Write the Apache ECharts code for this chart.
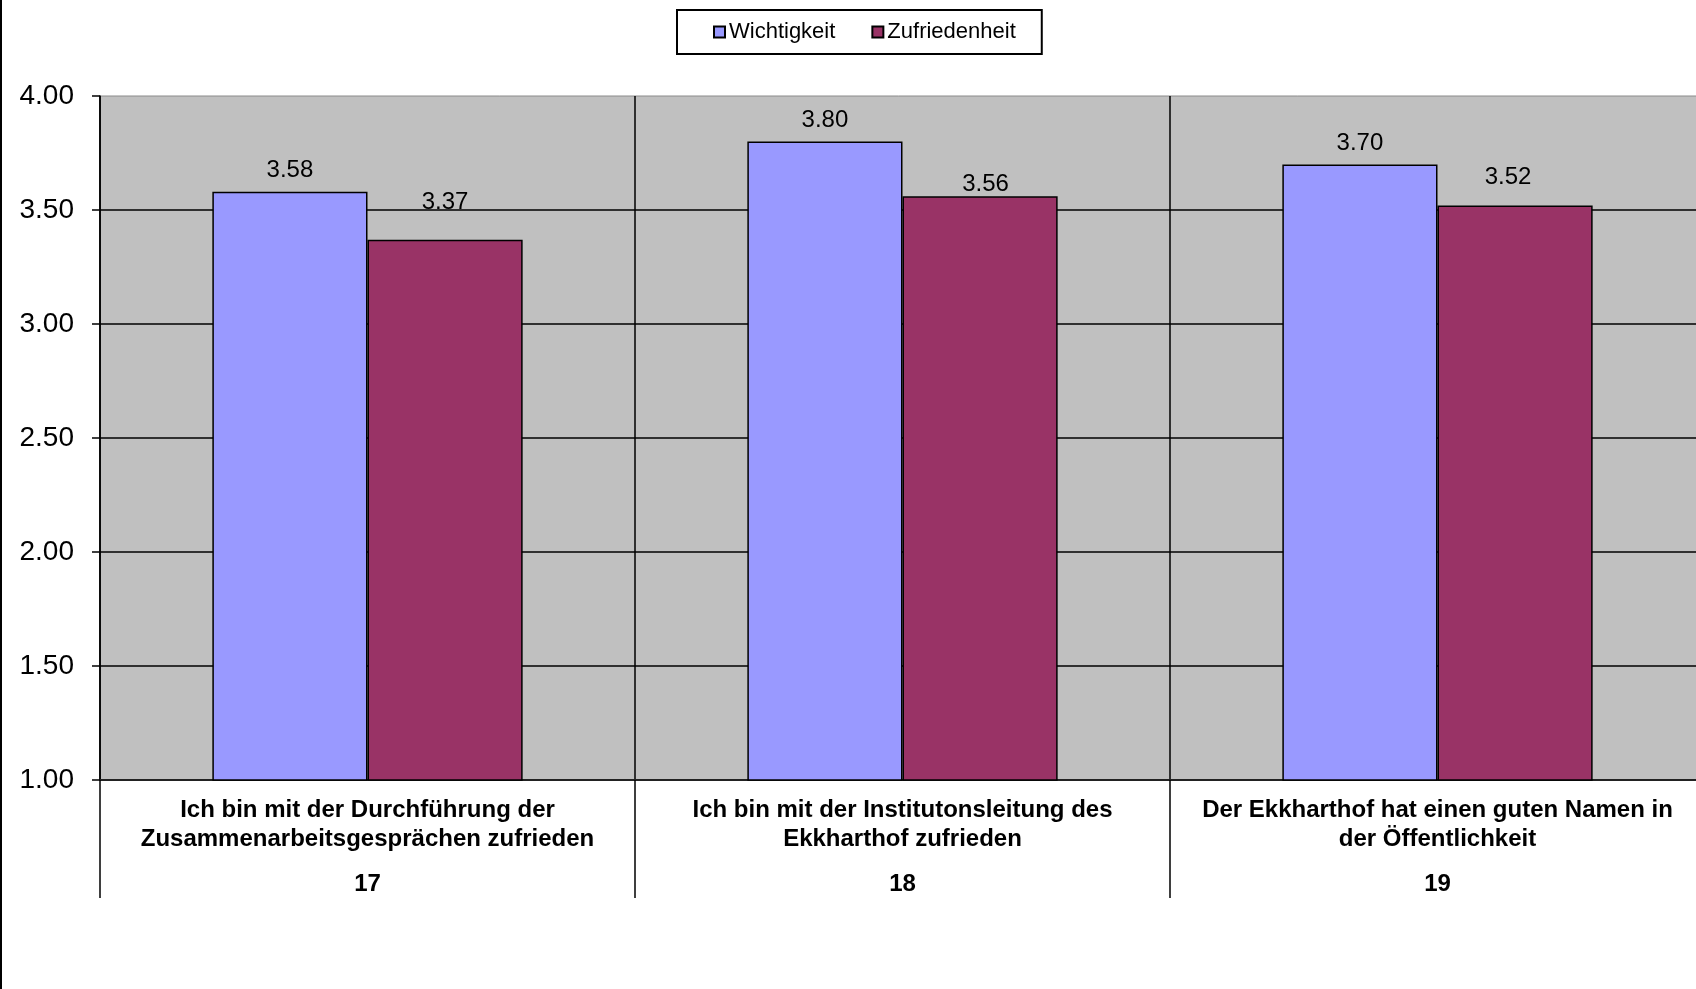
<!DOCTYPE html>
<html>
<head>
<meta charset="utf-8">
<script src="https://cdn.jsdelivr.net/npm/echarts@6/dist/echarts.min.js"></script>
<style>
html,body{margin:0;padding:0;background:#fff;}
#c{width:1696px;height:989px;}
</style>
</head>
<body>
<div id="c"></div>
<script>
const categoryNumbers = ['17', '18', '19'];
const categoryLines = [
  ['Ich bin mit der Durchführung der', 'Zusammenarbeitsgesprächen zufrieden'],
  ['Ich bin mit der Institutonsleitung des', 'Ekkharthof zufrieden'],
  ['Der Ekkharthof hat einen guten Namen in', 'der Öffentlichkeit']
];
const seriesNames = ['Wichtigkeit', 'Zufriedenheit'];
const wichtigkeit = [3.58, 3.80, 3.70];
const zufriedenheit = [3.37, 3.56, 3.52];
const yMin = 1, yMax = 4, yStep = 0.5;

const FONT = 'Arial, "Liberation Sans", sans-serif';
const chart = echarts.init(document.getElementById('c'), null, {renderer: 'canvas'});

// label nudges (styling only) to mimic the source's label placement
const redLabelNudge = [[0, -15.5], [5.5, 10], [-7, -6.5]];

const labelCfg = {
  show: true,
  position: 'top',
  distance: 9.5,
  color: '#000',
  fontFamily: FONT,
  fontSize: 24,
  formatter: p => p.value.toFixed(2)
};

chart.setOption({
  animation: false,
  backgroundColor: '#ffffff',
  textStyle: {fontFamily: FONT},
  graphic: [{
    type: 'line',
    shape: {x1: 1, y1: 0, x2: 1, y2: 989},
    style: {stroke: '#000', lineWidth: 2}
  }],
  legend: {
    left: 677,
    top: 10,
    padding: [11, 26, 11, 36],
    borderColor: '#000',
    borderWidth: 2,
    itemWidth: 11,
    itemHeight: 11,
    itemGap: 36,
    icon: 'rect',
    textStyle: {fontFamily: FONT, fontSize: 22, color: '#000', padding: [0, 0, 0, -1]},
    data: seriesNames
  },
  grid: {
    left: 100,
    top: 96,
    width: 1605,
    bottom: 209,
    outerBoundsMode: 'none',
    containLabel: false,
    show: true,
    backgroundColor: '#C0C0C0',
    borderColor: '#8a8a8a',
    borderWidth: 1
  },
  xAxis: {
    type: 'category',
    data: categoryNumbers,
    axisLine: {show: true, lineStyle: {color: '#222', width: 2}},
    axisTick: {show: true, interval: 0, length: 118, lineStyle: {color: '#000', width: 1.5}},
    splitLine: {show: true, interval: 0, lineStyle: {color: '#000', width: 1.5}},
    axisLabel: {
      interval: 0,
      margin: 16,
      hideOverlap: false,
      formatter: (v, i) => '{t|' + categoryLines[i][0] + '}\n{t|' + categoryLines[i][1] + '}\n{n|' + v + '}',
      rich: {
        t: {fontFamily: FONT, fontSize: 24, fontWeight: 'bold', color: '#000', lineHeight: 29},
        n: {fontFamily: FONT, fontSize: 24, fontWeight: 'bold', color: '#000', lineHeight: 60}
      }
    }
  },
  yAxis: {
    type: 'value',
    min: yMin,
    max: yMax,
    interval: yStep,
    axisLine: {show: true, lineStyle: {color: '#000', width: 1.5}},
    axisTick: {show: true, length: 8, lineStyle: {color: '#000', width: 1.5}},
    splitLine: {show: true, showMaxLine: false, showMinLine: false, lineStyle: {color: '#000', width: 1.5}},
    axisLabel: {
      margin: 26,
      fontFamily: FONT,
      fontSize: 28,
      color: '#000',
      formatter: v => v.toFixed(2)
    }
  },
  series: [
    {
      name: seriesNames[0],
      type: 'bar',
      data: wichtigkeit,
      barGap: '0%',
      barCategoryGap: '42%',
      itemStyle: {color: '#9999FF', borderColor: '#000', borderWidth: 1.5},
      label: labelCfg
    },
    {
      name: seriesNames[1],
      type: 'bar',
      data: zufriedenheit.map((v, i) => ({value: v, label: {offset: redLabelNudge[i]}})),
      barGap: '0%',
      barCategoryGap: '42%',
      itemStyle: {color: '#993366', borderColor: '#000', borderWidth: 1.5},
      label: labelCfg
    }
  ]
});
</script>
</body>
</html>
